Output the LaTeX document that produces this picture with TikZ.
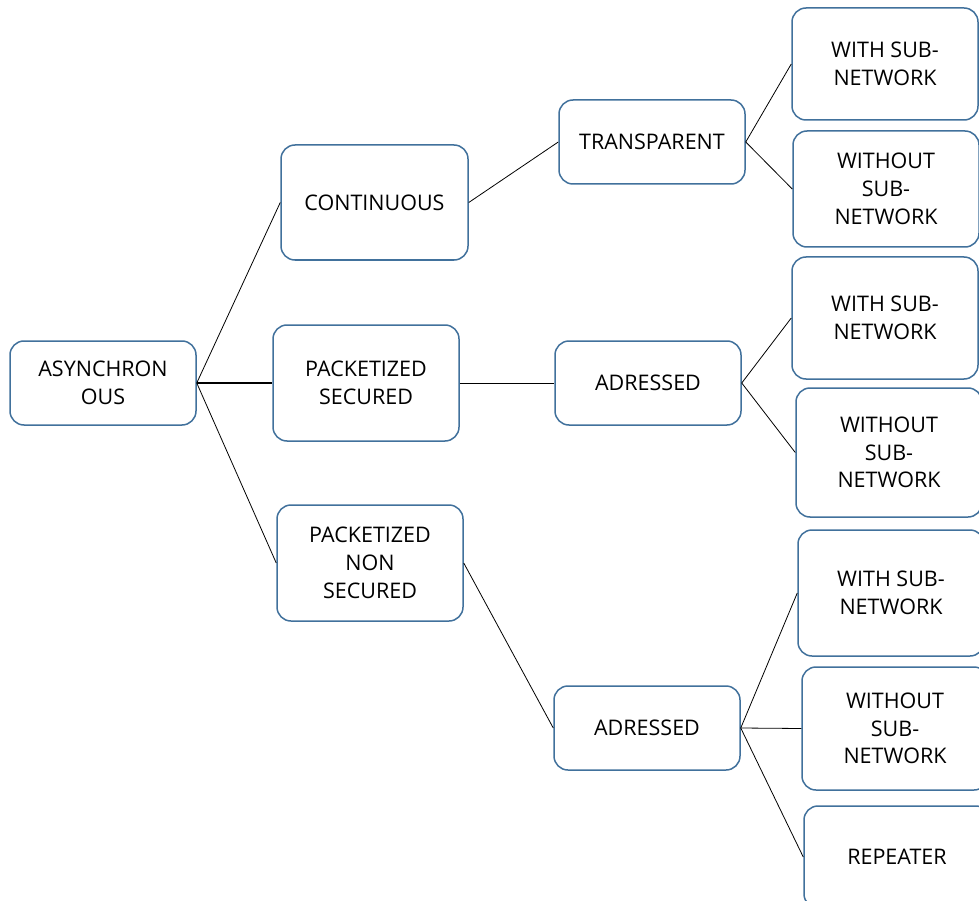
\documentclass[tikz,border=0pt]{standalone}
\usepackage{fontspec}
\setmainfont{Open Sans}
\definecolor{boxblue}{HTML}{41719C}
\begin{document}
\begin{tikzpicture}[x=1pt,y=-1pt,
  box/.style={draw=boxblue,line width=1.5pt,rounded corners=14pt,fill=white,
    align=center,inner sep=0pt,font=\fontsize{21.5}{27.8}\selectfont,text=black},
  link/.style={draw=black,line width=0.8pt}]
\clip (0,0) rectangle (979,901);
\fill[white] (0,0) rectangle (979,901);
\node[box,minimum width=186pt,minimum height=84pt] (asy) at (103,383) {ASYNCHRON\\OUS};
\node[box,minimum width=187pt,minimum height=115pt] (cont) at (374.5,202.5) {CONTINUOUS};
\node[box,minimum width=186pt,minimum height=116pt] (pks) at (366,383) {PACKETIZED\\SECURED};
\node[box,minimum width=186pt,minimum height=116pt] (pkns) at (370,563) {PACKETIZED\\NON\\SECURED};
\node[box,minimum width=186pt,minimum height=84pt] (trans) at (652,142) {TRANSPARENT};
\node[box,minimum width=186pt,minimum height=84pt] (adr1) at (648,383) {ADRESSED};
\node[box,minimum width=186pt,minimum height=84pt] (adr2) at (647,728) {ADRESSED};
\node[box,minimum width=186pt,minimum height=112pt] (w1) at (885,64) {WITH SUB-\\NETWORK};
\node[box,minimum width=186pt,minimum height=116pt] (wo1) at (886,189) {WITHOUT\\SUB-\\NETWORK};
\node[box,minimum width=186pt,minimum height=122pt] (w2) at (885,318) {WITH SUB-\\NETWORK};
\node[box,minimum width=186pt,minimum height=129pt] (wo2) at (889,452.5) {WITHOUT\\SUB-\\NETWORK};
\node[box,minimum width=186pt,minimum height=126pt] (w3) at (891,593) {WITH SUB-\\NETWORK};
\node[box,minimum width=186pt,minimum height=123pt] (wo3) at (895,728.5) {WITHOUT\\SUB-\\NETWORK};
\node[box,minimum width=186pt,minimum height=102pt] (rep) at (897,857) {REPEATER};
\draw[link] (asy.east) -- (cont.west);
\draw[link,line width=2pt] (asy.east) -- (pks.west);
\draw[link] (asy.east) -- (pkns.west);
\draw[link] (cont.east) -- (trans.west);
\draw[link] (trans.east) -- (w1.west);
\draw[link] (trans.east) -- (wo1.west);
\draw[link] (pks.east) -- (adr1.west);
\draw[link] (adr1.east) -- (w2.west);
\draw[link] (adr1.east) -- (wo2.west);
\draw[link] (pkns.east) -- (adr2.west);
\draw[link] (adr2.east) -- (w3.west);
\draw[link] (adr2.east) -- (wo3.west);
\draw[link] (adr2.east) -- (rep.west);
\end{tikzpicture}
\end{document}
